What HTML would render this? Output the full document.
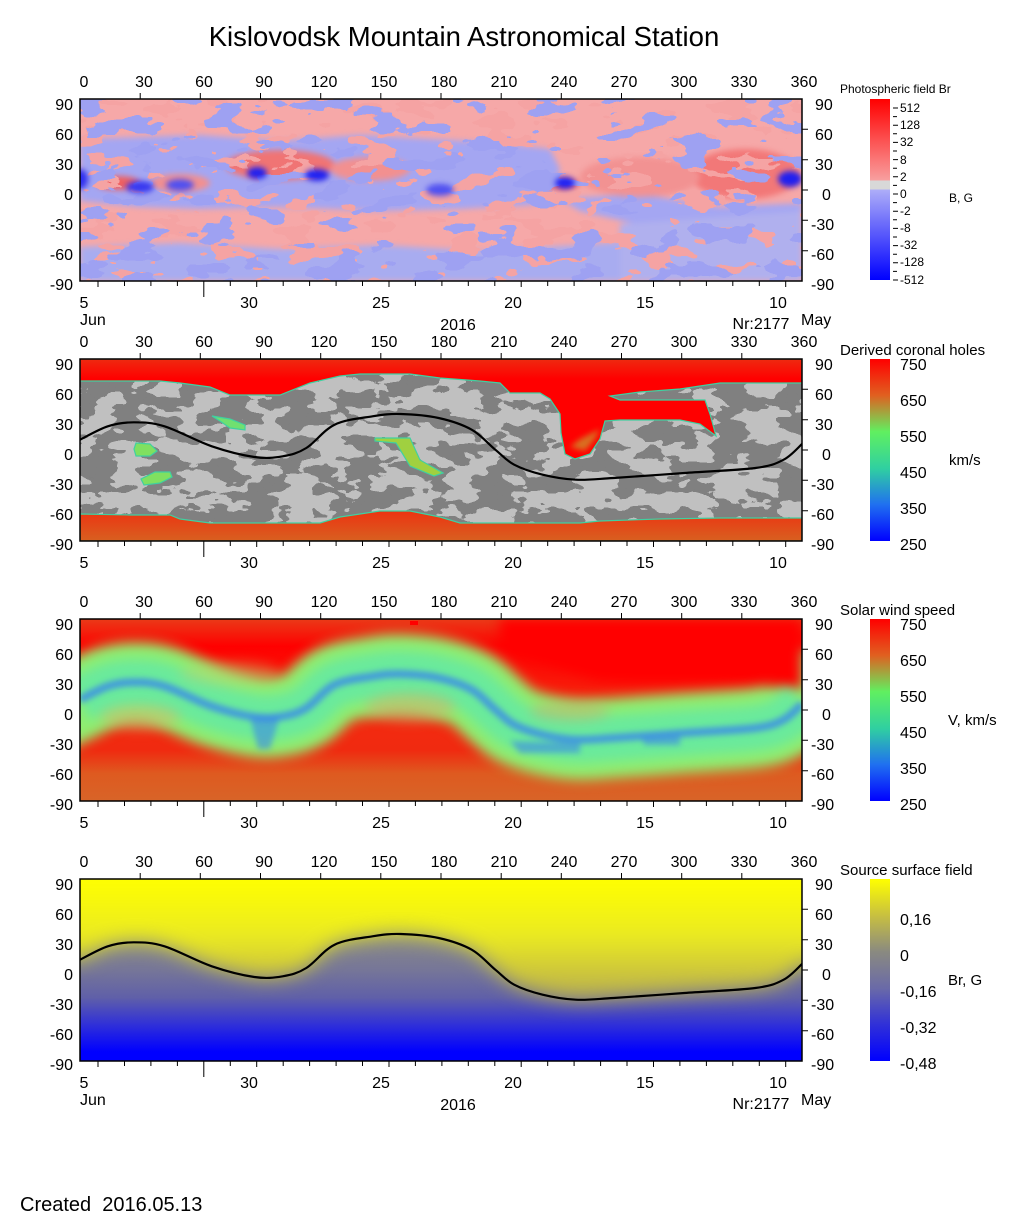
<!DOCTYPE html>
<html><head><meta charset="utf-8"><style>
html,body{margin:0;padding:0;background:#fff}
svg{display:block;font-family:"Liberation Sans",Arial,sans-serif}
.t{font-size:16px;fill:#000}
filter{color-interpolation-filters:sRGB}
</style></head><body>
<svg width="1020" height="1223" viewBox="0 0 1020 1223" xmlns="http://www.w3.org/2000/svg">
<defs>
<clipPath id="pc"><rect x="0" y="0" width="722" height="182"/></clipPath>
<filter id="greytex" filterUnits="userSpaceOnUse" x="0" y="0" width="722" height="182" color-interpolation-filters="sRGB">
 <feTurbulence type="fractalNoise" baseFrequency="0.03 0.06" numOctaves="3" seed="3"/>
 <feColorMatrix type="matrix" values="0 0 0 0 0.5  0 0 0 0 0.5  0 0 0 0 0.5  1 0 0 0 0"/>
 <feComponentTransfer><feFuncA type="discrete" tableValues="0 0 0 0 0 1 1 1 1 1"/></feComponentTransfer>
</filter>
<filter id="pinktex" filterUnits="userSpaceOnUse" x="0" y="0" width="722" height="182" color-interpolation-filters="sRGB">
 <feTurbulence type="fractalNoise" baseFrequency="0.025 0.055" numOctaves="3" seed="7"/>
 <feColorMatrix type="matrix" values="0 0 0 0 0.96  0 0 0 0 0.64  0 0 0 0 0.64  1 0 0 0 0"/>
 <feComponentTransfer><feFuncA type="discrete" tableValues="0 0 0 0 0 0 1 1 1 1"/></feComponentTransfer>
</filter>
<filter id="bluetex" filterUnits="userSpaceOnUse" x="0" y="0" width="722" height="182" color-interpolation-filters="sRGB">
 <feTurbulence type="fractalNoise" baseFrequency="0.025 0.055" numOctaves="3" seed="11"/>
 <feColorMatrix type="matrix" values="0 0 0 0 0.62  0 0 0 0 0.63  0 0 0 0 0.95  1 0 0 0 0"/>
 <feComponentTransfer><feFuncA type="discrete" tableValues="0 0 0 0 0 0 1 1 1 1"/></feComponentTransfer>
</filter>
<filter id="b3" filterUnits="userSpaceOnUse" x="-100" y="-100" width="922" height="382" color-interpolation-filters="sRGB"><feGaussianBlur stdDeviation="3"/></filter>
<filter id="b6" filterUnits="userSpaceOnUse" x="-100" y="-100" width="922" height="382" color-interpolation-filters="sRGB"><feGaussianBlur stdDeviation="6"/></filter>
<filter id="b10" filterUnits="userSpaceOnUse" x="-100" y="-100" width="922" height="382" color-interpolation-filters="sRGB"><feGaussianBlur stdDeviation="10"/></filter>
<linearGradient id="cb1" x1="0" y1="0" x2="0" y2="1">
 <stop offset="0" stop-color="#ff0000"/><stop offset="0.45" stop-color="#f8a0a0"/>
 <stop offset="0.45" stop-color="#d8d8d8"/><stop offset="0.5" stop-color="#d8d8d8"/>
 <stop offset="0.5" stop-color="#aeaef8"/><stop offset="1" stop-color="#0000ff"/>
</linearGradient>
<linearGradient id="cbr" x1="0" y1="0" x2="0" y2="1">
 <stop offset="0" stop-color="#ff0000"/><stop offset="0.2" stop-color="#e06020"/>
 <stop offset="0.4" stop-color="#60f060"/><stop offset="0.6" stop-color="#30d0a0"/>
 <stop offset="0.8" stop-color="#2070f0"/><stop offset="1" stop-color="#0000ff"/>
</linearGradient>
<linearGradient id="cb4" x1="0" y1="0" x2="0" y2="1">
 <stop offset="0" stop-color="#ffff00"/><stop offset="0.2" stop-color="#c8c040"/>
 <stop offset="0.4" stop-color="#8a8a80"/><stop offset="0.6" stop-color="#6a6aa8"/>
 <stop offset="0.8" stop-color="#3030d8"/><stop offset="1" stop-color="#0000ff"/>
</linearGradient>
<linearGradient id="p2top" gradientUnits="userSpaceOnUse" x1="0" y1="0" x2="0" y2="100">
 <stop offset="0" stop-color="#ee2a10"/><stop offset="0.2" stop-color="#ff0000"/><stop offset="1" stop-color="#ff0000"/>
</linearGradient>
<linearGradient id="p2bot" gradientUnits="userSpaceOnUse" x1="0" y1="150" x2="0" y2="182">
 <stop offset="0" stop-color="#ee3010"/><stop offset="1" stop-color="#d86020"/>
</linearGradient>
<linearGradient id="p3bg" gradientUnits="userSpaceOnUse" x1="0" y1="0" x2="0" y2="182">
 <stop offset="0" stop-color="#ea3a18"/><stop offset="0.15" stop-color="#ff0000"/>
 <stop offset="0.5" stop-color="#f52a10"/><stop offset="0.72" stop-color="#f02a10"/>
 <stop offset="0.85" stop-color="#de5a20"/><stop offset="1" stop-color="#d86428"/>
</linearGradient>
<linearGradient id="p4a" gradientUnits="userSpaceOnUse" x1="0" y1="0" x2="0" y2="182">
 <stop offset="0" stop-color="#ffff00"/><stop offset="0.3" stop-color="#ecec20"/>
 <stop offset="0.55" stop-color="#c8c040"/><stop offset="0.75" stop-color="#a8a060"/>
</linearGradient>
<linearGradient id="p4b" gradientUnits="userSpaceOnUse" x1="0" y1="0" x2="0" y2="182">
 <stop offset="0.3" stop-color="#8a8a88"/><stop offset="0.5" stop-color="#767698"/>
 <stop offset="0.65" stop-color="#6060a8"/><stop offset="0.8" stop-color="#3030d8"/>
 <stop offset="0.95" stop-color="#0000ff"/>
</linearGradient>
<path id="nl" class="nlp" fill="none" d="M0,80.7 L27.8,67.3 53.8,63.3 84.5,67.3 131.8,87.3 174.3,98 202.7,97.3 226.3,89 254.6,65.7 292.5,57.3 320.8,55 358.6,59 391.7,70.7 415.3,90.7 434.2,105.7 462.6,115.7 495.7,120.7 533.5,119 604.4,114 675.3,109 703.6,100.7 722,85"/>
<g id="ticks" stroke="#000" stroke-width="1" fill="none">
 <path d="M60.2,0v-6M120.3,0v-6M180.5,0v-6M240.7,0v-6M300.8,0v-6M361,0v-6M421.2,0v-6M481.3,0v-6M541.5,0v-6M601.7,0v-6M661.8,0v-6"/>
 <path d="M722,30.3h6M722,60.7h6M722,91h6M722,121.3h6M722,151.7h6"/>
 <path d="M18,182v6M44.5,182v5M70.9,182v5M97.4,182v5M123.8,182v16M150.3,182v5M176.7,182v6M203.2,182v5M229.6,182v5M256.1,182v5M282.5,182v5M309,182v6M335.4,182v5M361.9,182v5M388.3,182v5M414.8,182v5M441.2,182v6M467.7,182v5M494.1,182v5M520.6,182v5M547,182v5M573.5,182v6M599.9,182v5M626.4,182v5M652.8,182v5M679.3,182v5M705.7,182v6"/>
 <rect x="0" y="0" width="722" height="182" stroke-width="1.5"/>
</g>
</defs>

<text x="464" y="46" font-size="27.5" text-anchor="middle">Kislovodsk Mountain Astronomical Station</text>

<!-- PANEL 1 -->
<g transform="translate(80,99)">
 <g clip-path="url(#pc)">
  <rect width="722" height="182" fill="#f6a8a8"/>
  <g filter="url(#b3)">
   <polygon fill="#a4a6f2" points="0,40 60,38 120,36 200,42 280,36 350,40 420,44 470,50 480,70 470,100 450,106 380,110 300,112 200,108 120,110 60,108 0,102"/>
   <polygon fill="#a4a6f2" points="480,100 560,95 640,108 722,104 722,128 640,138 560,126 500,112"/>
   <polygon fill="#a8acf0" points="0,148 100,144 200,150 300,146 400,152 500,146 600,138 722,142 722,182 0,182"/>
   <polygon fill="#b0b0ee" points="540,125 722,112 722,182 540,182"/>
   <ellipse cx="200" cy="66" rx="55" ry="15" fill="#f07474"/>
   <ellipse cx="100" cy="84" rx="30" ry="9" fill="#f29090"/>
   <ellipse cx="290" cy="70" rx="40" ry="12" fill="#f29090"/>
   <ellipse cx="665" cy="75" rx="55" ry="25" fill="#f27878"/>
   <ellipse cx="560" cy="78" rx="60" ry="20" fill="#f29292"/>
   <ellipse cx="38" cy="84" rx="22" ry="7" fill="#f06060"/>
   <ellipse cx="480" cy="85" rx="20" ry="6" fill="#f07070"/>
  </g>
  <rect width="722" height="182" filter="url(#pinktex)"/>
  <rect width="722" height="182" filter="url(#bluetex)"/>
  <g filter="url(#b3)">
   <ellipse cx="60" cy="88" rx="14" ry="6" fill="#3838f0"/>
   <ellipse cx="100" cy="86" rx="14" ry="6" fill="#5050f0"/>
   <ellipse cx="177" cy="74" rx="10" ry="6" fill="#2020f0"/>
   <ellipse cx="237" cy="76" rx="12" ry="6" fill="#2020f0"/>
   <ellipse cx="360" cy="91" rx="14" ry="6" fill="#5050f0"/>
   <ellipse cx="485" cy="84" rx="10" ry="6" fill="#2020f0"/>
   <ellipse cx="710" cy="80" rx="12" ry="8" fill="#2020f0"/>
   <ellipse cx="0" cy="80" rx="8" ry="10" fill="#3030f0"/>
  </g>
 </g>
 <use href="#ticks"/>
</g>
<g class="t">
 <text x="84" y="87" text-anchor="middle">0</text><text x="144" y="87" text-anchor="middle">30</text><text x="204" y="87" text-anchor="middle">60</text><text x="264" y="87" text-anchor="middle">90</text><text x="324" y="87" text-anchor="middle">120</text><text x="384" y="87" text-anchor="middle">150</text><text x="444" y="87" text-anchor="middle">180</text><text x="504" y="87" text-anchor="middle">210</text><text x="564" y="87" text-anchor="middle">240</text><text x="624" y="87" text-anchor="middle">270</text><text x="684" y="87" text-anchor="middle">300</text><text x="744" y="87" text-anchor="middle">330</text><text x="804" y="87" text-anchor="middle">360</text>
 <g text-anchor="end"><text x="73" y="110">90</text><text x="73" y="140">60</text><text x="73" y="170">30</text><text x="73" y="200">0</text><text x="73" y="230">-30</text><text x="73" y="260">-60</text><text x="73" y="290">-90</text></g>
 <g><text x="815" y="110">90</text><text x="815" y="140">60</text><text x="815" y="170">30</text><text x="822" y="200">0</text><text x="811" y="230">-30</text><text x="811" y="260">-60</text><text x="811" y="290">-90</text></g>
 <g text-anchor="middle"><text x="84" y="308">5</text><text x="249" y="308">30</text><text x="381" y="308">25</text><text x="513" y="308">20</text><text x="645" y="308">15</text><text x="778" y="308">10</text></g>
 <text x="80" y="325">Jun</text><text x="458" y="330" text-anchor="middle">2016</text><text x="761" y="329" text-anchor="middle">Nr:2177</text><text x="801" y="325">May</text>
</g>
<rect x="870" y="99" width="20" height="181" fill="url(#cb1)"/>
<g stroke="#000"><path d="M893,108h5M893,116.6h4M893,125.2h5M893,133.8h4M893,142.4h5M893,151h4M893,159.6h5M893,168.2h4M893,176.8h5M893,185.4h4M893,194h5M893,202.6h4M893,211.2h5M893,219.8h4M893,228.4h5M893,237h4M893,245.6h5M893,254.2h4M893,262.8h5M893,271.4h4M893,280h5"/></g>
<g font-size="12">
 <text x="840" y="93">Photospheric field Br</text>
 <text x="900" y="112">512</text><text x="900" y="129">128</text><text x="900" y="146">32</text><text x="900" y="164">8</text><text x="900" y="181">2</text><text x="900" y="198">0</text><text x="900" y="215">-2</text><text x="900" y="232">-8</text><text x="900" y="249">-32</text><text x="900" y="266">-128</text><text x="900" y="284">-512</text>
 <text x="949" y="202">B, G</text>
</g>

<!-- PANEL 2 -->
<g transform="translate(80,359)">
 <g clip-path="url(#pc)">
  <rect width="722" height="182" fill="#c0c0c0"/>
  <rect width="722" height="182" filter="url(#greytex)"/>
  <g stroke="#40d0a0" stroke-width="1.2">
   <polygon fill="url(#p2top)" points="0,22 80,22 100,24 130,28 150,36 200,36 230,24 260,17 280,15 330,15 360,19 400,22 420,24 430,34 460,34 470,40 480,55 481,74 485,95 495,100 510,95 520,80 525,62 540,61 570,61 600,61 620,65 636,77 630,55 625,41 540,41 530,37 560,33 600,30 640,24 680,24 722,24 722,0 0,0"/>
   <polygon fill="url(#p2bot)" points="0,155 50,156 90,156 100,160 130,164 200,164 240,164 260,158 300,152 330,152 360,158 380,164 460,164 500,164 520,162 580,160 640,159 722,159 722,182 0,182"/>
   <polygon fill="#70e070" points="132,57 150,60 165,66 165,71 150,69 140,62"/>
   <polygon fill="#80e060" points="56,84 70,85 77,92 70,97 56,97 54,90"/>
   <polygon fill="#80e060" points="61,120 75,113 90,113 92,118 80,124 64,126"/>
   <polygon fill="#a0d040" points="295,79 330,79 340,101 363,114 354,117 330,107 316,84 295,82"/>
  </g>
  <polygon fill="#c8a030" opacity="0.7" filter="url(#b3)" points="490,88 505,92 515,80 520,70 500,80"/>
  <use href="#nl" stroke="#000" stroke-width="2.2"/>
 </g>
 <use href="#ticks"/>
</g>
<g class="t">
 <text x="84" y="347" text-anchor="middle">0</text><text x="144" y="347" text-anchor="middle">30</text><text x="204" y="347" text-anchor="middle">60</text><text x="264" y="347" text-anchor="middle">90</text><text x="324" y="347" text-anchor="middle">120</text><text x="384" y="347" text-anchor="middle">150</text><text x="444" y="347" text-anchor="middle">180</text><text x="504" y="347" text-anchor="middle">210</text><text x="564" y="347" text-anchor="middle">240</text><text x="624" y="347" text-anchor="middle">270</text><text x="684" y="347" text-anchor="middle">300</text><text x="744" y="347" text-anchor="middle">330</text><text x="804" y="347" text-anchor="middle">360</text>
 <g text-anchor="end"><text x="73" y="370">90</text><text x="73" y="400">60</text><text x="73" y="430">30</text><text x="73" y="460">0</text><text x="73" y="490">-30</text><text x="73" y="520">-60</text><text x="73" y="550">-90</text></g>
 <g><text x="815" y="370">90</text><text x="815" y="400">60</text><text x="815" y="430">30</text><text x="822" y="460">0</text><text x="811" y="490">-30</text><text x="811" y="520">-60</text><text x="811" y="550">-90</text></g>
 <g text-anchor="middle"><text x="84" y="568">5</text><text x="249" y="568">30</text><text x="381" y="568">25</text><text x="513" y="568">20</text><text x="645" y="568">15</text><text x="778" y="568">10</text></g>
 <text x="840" y="355" font-size="15">Derived coronal holes</text>
 <text x="900" y="370">750</text><text x="900" y="406">650</text><text x="900" y="442">550</text><text x="900" y="478">450</text><text x="900" y="514">350</text><text x="900" y="550">250</text>
 <text x="949" y="465" font-size="15">km/s</text>
</g>
<rect x="870" y="359" width="20" height="182" fill="url(#cbr)"/>

<!-- PANEL 3 -->
<g transform="translate(80,619)">
 <g clip-path="url(#pc)">
  <rect width="722" height="182" fill="url(#p3bg)"/>
  <g filter="url(#b6)">
   <use href="#nl" stroke="#90ee70" stroke-width="80" stroke-linejoin="round" stroke-linecap="square"/>
   <polygon fill="#ff0000" points="420,30 480,50 520,62 560,64 640,64 722,70 722,0 420,0"/>
  </g>
  <g filter="url(#b6)">
   <use href="#nl" stroke="#60e8a8" stroke-width="46" stroke-linejoin="round" opacity="0.8"/>
   <ellipse cx="60" cy="98" rx="40" ry="12" fill="#c8c070" opacity="0.6"/>
   <ellipse cx="330" cy="88" rx="45" ry="14" fill="#c8b870" opacity="0.6"/>
   <ellipse cx="490" cy="92" rx="40" ry="10" fill="#c8b070" opacity="0.5"/>
   <ellipse cx="150" cy="55" rx="50" ry="12" fill="#c0d070" opacity="0.4"/>
  </g>
  <g filter="url(#b3)">
   <use href="#nl" stroke="#3a8ae8" stroke-width="8" stroke-linejoin="round" opacity="0.8"/>
   <polygon fill="#3a88e8" opacity="0.6" points="170,98 200,97 190,130 178,130"/>
   <polygon fill="#3a88e8" opacity="0.6" points="430,122 500,124 500,134 440,134"/>
   <polygon fill="#3a88e8" opacity="0.6" points="560,118 600,116 600,126 565,126"/>
  </g>
  <rect x="330" y="2" width="8" height="4" fill="#ff0000"/>
 </g>
 <use href="#ticks"/>
</g>
<g class="t">
 <text x="84" y="607" text-anchor="middle">0</text><text x="144" y="607" text-anchor="middle">30</text><text x="204" y="607" text-anchor="middle">60</text><text x="264" y="607" text-anchor="middle">90</text><text x="324" y="607" text-anchor="middle">120</text><text x="384" y="607" text-anchor="middle">150</text><text x="444" y="607" text-anchor="middle">180</text><text x="504" y="607" text-anchor="middle">210</text><text x="564" y="607" text-anchor="middle">240</text><text x="624" y="607" text-anchor="middle">270</text><text x="684" y="607" text-anchor="middle">300</text><text x="744" y="607" text-anchor="middle">330</text><text x="804" y="607" text-anchor="middle">360</text>
 <g text-anchor="end"><text x="73" y="630">90</text><text x="73" y="660">60</text><text x="73" y="690">30</text><text x="73" y="720">0</text><text x="73" y="750">-30</text><text x="73" y="780">-60</text><text x="73" y="810">-90</text></g>
 <g><text x="815" y="630">90</text><text x="815" y="660">60</text><text x="815" y="690">30</text><text x="822" y="720">0</text><text x="811" y="750">-30</text><text x="811" y="780">-60</text><text x="811" y="810">-90</text></g>
 <g text-anchor="middle"><text x="84" y="828">5</text><text x="249" y="828">30</text><text x="381" y="828">25</text><text x="513" y="828">20</text><text x="645" y="828">15</text><text x="778" y="828">10</text></g>
 <text x="840" y="615" font-size="15">Solar wind speed</text>
 <text x="900" y="630">750</text><text x="900" y="666">650</text><text x="900" y="702">550</text><text x="900" y="738">450</text><text x="900" y="774">350</text><text x="900" y="810">250</text>
 <text x="948" y="725" font-size="15">V, km/s</text>
</g>
<rect x="870" y="619" width="20" height="182" fill="url(#cbr)"/>

<!-- PANEL 4 -->
<g transform="translate(80,879)">
 <g clip-path="url(#pc)">
  <rect width="722" height="182" fill="url(#p4b)"/>
  <g filter="url(#b10)">
   <path id="p4above" fill="url(#p4a)" d="M-30,-30 L752,-30 752,85 722,85 703.6,100.7 675.3,109 604.4,114 533.5,119 495.7,120.7 462.6,115.7 434.2,105.7 415.3,90.7 391.7,70.7 358.6,59 320.8,55 292.5,57.3 254.6,65.7 226.3,89 202.7,97.3 174.3,98 131.8,87.3 84.5,67.3 53.8,63.3 27.8,67.3 0,80.7 -30,80Z"/>
  </g>
  <use href="#nl" stroke="#000" stroke-width="2.2"/>
 </g>
 <use href="#ticks"/>
</g>
<g class="t">
 <text x="84" y="867" text-anchor="middle">0</text><text x="144" y="867" text-anchor="middle">30</text><text x="204" y="867" text-anchor="middle">60</text><text x="264" y="867" text-anchor="middle">90</text><text x="324" y="867" text-anchor="middle">120</text><text x="384" y="867" text-anchor="middle">150</text><text x="444" y="867" text-anchor="middle">180</text><text x="504" y="867" text-anchor="middle">210</text><text x="564" y="867" text-anchor="middle">240</text><text x="624" y="867" text-anchor="middle">270</text><text x="684" y="867" text-anchor="middle">300</text><text x="744" y="867" text-anchor="middle">330</text><text x="804" y="867" text-anchor="middle">360</text>
 <g text-anchor="end"><text x="73" y="890">90</text><text x="73" y="920">60</text><text x="73" y="950">30</text><text x="73" y="980">0</text><text x="73" y="1010">-30</text><text x="73" y="1040">-60</text><text x="73" y="1070">-90</text></g>
 <g><text x="815" y="890">90</text><text x="815" y="920">60</text><text x="815" y="950">30</text><text x="822" y="980">0</text><text x="811" y="1010">-30</text><text x="811" y="1040">-60</text><text x="811" y="1070">-90</text></g>
 <g text-anchor="middle"><text x="84" y="1088">5</text><text x="249" y="1088">30</text><text x="381" y="1088">25</text><text x="513" y="1088">20</text><text x="645" y="1088">15</text><text x="778" y="1088">10</text></g>
 <text x="80" y="1105">Jun</text><text x="458" y="1110" text-anchor="middle">2016</text><text x="761" y="1109" text-anchor="middle">Nr:2177</text><text x="801" y="1105">May</text>
 <text x="840" y="875" font-size="15">Source surface field</text>
 <text x="900" y="925">0,16</text><text x="900" y="961">0</text><text x="900" y="997">-0,16</text><text x="900" y="1033">-0,32</text><text x="900" y="1069">-0,48</text>
 <text x="948" y="985" font-size="15">Br, G</text>
</g>
<rect x="870" y="879" width="20" height="182" fill="url(#cb4)"/>

<text x="20" y="1211" font-size="20">Created&#160;&#160;2016.05.13</text>
</svg>
<script>
(function(){
 var p=[[0,80.7],[27.8,67.3],[53.8,63.3],[84.5,67.3],[131.8,87.3],[174.3,98],[202.7,97.3],[226.3,89],[254.6,65.7],[292.5,57.3],[320.8,55],[358.6,59],[391.7,70.7],[415.3,90.7],[434.2,105.7],[462.6,115.7],[495.7,120.7],[533.5,119],[604.4,114],[675.3,109],[703.6,100.7],[722,85]];
 var d="M"+p[0][0]+","+p[0][1];
 for(var i=0;i<p.length-1;i++){
  var a=p[i>0?i-1:i],b=p[i],c=p[i+1],e=p[i+2<p.length?i+2:i+1];
  var c1=[b[0]+(c[0]-a[0])/6,b[1]+(c[1]-a[1])/6],c2=[c[0]-(e[0]-b[0])/6,c[1]-(e[1]-b[1])/6];
  d+=" C"+c1[0].toFixed(1)+","+c1[1].toFixed(1)+" "+c2[0].toFixed(1)+","+c2[1].toFixed(1)+" "+c[0]+","+c[1];
 }
 document.getElementById("nl").setAttribute("d",d);
 document.getElementById("p4above").setAttribute("d",d+" L752,85 752,-30 -30,-30 -30,80 Z");
})();
</script>
</body></html>
